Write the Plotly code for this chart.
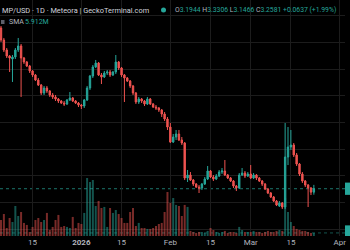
import pandas as pd
import plotly.graph_objects as go

dates = pd.date_range("2025-12-04", periods=110, freq="D")

opens = [6.268, 6.043, 5.856, 5.744, 5.687, 5.725, 5.856, 5.931, 5.706, 5.631,
         5.556, 5.463, 5.388, 5.294, 5.200, 5.051, 5.144, 5.088, 5.013, 4.976,
         4.938, 4.901, 4.863, 4.845, 4.919, 4.957, 4.901, 4.863, 4.826, 4.807,
         4.919, 5.144, 5.369, 5.538, 5.612, 5.388, 5.350, 5.425, 5.444, 5.388,
         5.444, 5.631, 5.519, 5.388, 5.332, 5.275, 5.182, 5.051, 4.882, 4.938,
         4.901, 4.845, 4.938, 4.845, 4.788, 4.770, 4.732, 4.657, 4.564, 4.414,
         4.133, 4.227, 4.283, 4.170, 4.114, 3.459, 3.515, 3.421, 3.346, 3.290,
         3.272, 3.346, 3.440, 3.590, 3.478, 3.440, 3.496, 3.571, 3.590, 3.515,
         3.459, 3.403, 3.309, 3.272, 3.515, 3.552, 3.496, 3.534, 3.459, 3.515,
         3.459, 3.403, 3.346, 3.253, 3.178, 3.103, 3.028, 2.934, 2.991, 2.916,
         3.852, 4.039, 4.077, 3.890, 3.721, 3.534, 3.403, 3.328, 3.272, 3.1944]
highs = [6.305, 6.081, 5.893, 5.762, 5.762, 5.893, 6.081, 5.968, 5.725, 5.650,
         5.575, 5.481, 5.406, 5.332, 5.219, 5.182, 5.182, 5.107, 5.051, 5.013,
         4.957, 4.919, 4.901, 4.938, 5.069, 4.976, 4.919, 4.882, 4.845, 4.938,
         5.182, 5.388, 5.575, 5.669, 5.631, 5.425, 5.463, 5.481, 5.481, 5.463,
         5.762, 5.650, 5.538, 5.406, 5.350, 5.294, 5.200, 5.069, 4.976, 4.957,
         4.919, 4.976, 4.957, 4.863, 4.826, 4.788, 4.751, 4.695, 4.601, 4.489,
         4.283, 4.358, 4.358, 4.227, 4.133, 3.609, 3.571, 3.440, 3.365, 3.328,
         3.365, 3.478, 3.684, 3.609, 3.515, 3.534, 3.609, 3.646, 3.796, 3.534,
         3.478, 3.421, 3.328, 3.552, 3.646, 3.590, 3.571, 3.702, 3.552, 3.534,
         3.478, 3.421, 3.365, 3.272, 3.197, 3.122, 3.047, 3.028, 3.009, 4.489,
         4.414, 4.358, 4.114, 3.927, 3.740, 3.571, 3.421, 3.346, 3.290, 3.3306]
lows = [6.006, 5.818, 5.706, 5.444, 5.257, 5.687, 5.818, 4.976, 5.594, 5.538,
        5.425, 5.350, 5.275, 5.182, 5.013, 5.013, 5.051, 4.976, 4.938, 4.901,
        4.863, 4.845, 4.807, 4.826, 4.901, 4.882, 4.845, 4.788, 4.751, 4.770,
        4.901, 5.107, 5.332, 5.519, 5.369, 5.219, 5.332, 5.388, 5.350, 5.369,
        5.406, 5.481, 5.350, 4.882, 5.257, 5.144, 5.013, 4.845, 4.845, 4.863,
        4.807, 4.826, 4.826, 4.770, 4.732, 4.695, 4.601, 4.526, 4.358, 4.114,
        4.114, 4.170, 4.152, 4.077, 3.421, 3.384, 3.403, 3.309, 3.272, 3.178,
        3.234, 3.328, 3.421, 3.459, 3.403, 3.421, 3.478, 3.534, 3.496, 3.440,
        3.384, 3.272, 3.215, 3.253, 3.496, 3.459, 3.478, 3.440, 3.440, 3.421,
        3.384, 3.309, 3.234, 3.159, 3.084, 3.009, 2.934, 2.916, 2.878, 2.878,
        3.702, 3.983, 3.852, 3.684, 3.496, 3.365, 3.290, 2.916, 3.140, 3.1466]
closes = [6.043, 5.856, 5.744, 5.706, 5.725, 5.856, 5.931, 5.706, 5.631, 5.556,
          5.463, 5.388, 5.294, 5.200, 5.051, 5.144, 5.088, 5.013, 4.976, 4.938,
          4.901, 4.863, 4.845, 4.919, 4.957, 4.901, 4.863, 4.826, 4.807, 4.919,
          5.144, 5.369, 5.538, 5.612, 5.388, 5.350, 5.425, 5.444, 5.388, 5.444,
          5.631, 5.519, 5.388, 5.332, 5.275, 5.182, 5.051, 4.882, 4.938, 4.901,
          4.845, 4.938, 4.845, 4.788, 4.770, 4.732, 4.657, 4.564, 4.414, 4.133,
          4.227, 4.283, 4.170, 4.114, 3.459, 3.515, 3.421, 3.346, 3.290, 3.272,
          3.346, 3.440, 3.590, 3.478, 3.440, 3.496, 3.571, 3.590, 3.515, 3.459,
          3.403, 3.309, 3.272, 3.515, 3.552, 3.496, 3.534, 3.459, 3.515, 3.459,
          3.403, 3.346, 3.253, 3.178, 3.103, 3.028, 2.953, 2.991, 2.916, 3.852,
          4.039, 4.077, 3.890, 3.721, 3.534, 3.403, 3.328, 3.272, 3.1944, 3.2581]
volumes_m = [12.0, 16.5, 6.0, 13.5, 10.5, 22.5, 15.0, 18.0, 9.8, 8.3,
             3.0, 6.8, 12.0, 13.5, 10.5, 12.0, 17.3, 4.5, 6.8, 12.0,
             15.8, 6.8, 7.5, 6.8, 6.0, 14.3, 6.0, 9.8, 9.0, 17.3,
             43.5, 40.5, 42.0, 22.5, 26.3, 21.0, 21.8, 6.8, 21.0, 17.3,
             19.5, 16.5, 13.5, 9.8, 9.8, 18.0, 21.0, 7.5, 9.8, 6.0,
             6.0, 5.3, 5.3, 6.0, 7.5, 9.0, 9.8, 18.0, 33.0, 24.8,
             28.5, 23.3, 22.5, 15.0, 23.3, 21.8, 3.8, 3.0, 2.3, 3.0,
             3.0, 2.3, 3.8, 6.0, 4.5, 3.0, 2.3, 3.0, 3.8, 2.3,
             3.0, 3.0, 2.3, 6.8, 4.5, 3.0, 3.0, 3.0, 3.8, 3.0,
             3.0, 2.3, 3.0, 3.8, 3.0, 3.0, 3.8, 4.5, 3.8, 28.5,
             18.0, 10.5, 7.5, 5.3, 4.5, 3.8, 3.8, 3.0, 2.3, 2.3]

tick_dates = ["2025-12-15", "2026-01-01", "2026-01-15", "2026-02-01",
              "2026-02-15", "2026-03-01", "2026-03-15", "2026-04-01"]
tick_labels = ["15", "<b>2026</b>", "15", "Feb", "15", "Mar", "15", "Apr"]

GREEN = "#26a69a"
RED = "#ef5350"
GREEN_V = "rgba(38,166,154,0.5)"
RED_V = "rgba(239,83,80,0.5)"
GRID = "#1c1c1c"
TXT = "#b2b5be"
FONT = "Roboto"

price_range = [2.373, 6.792]
vol_range = [0, 177]

vol_colors = [GREEN_V if c >= o else RED_V for o, c in zip(opens, closes)]

fig = go.Figure()
fig.add_trace(go.Bar(x=dates, y=volumes_m, marker=dict(color=vol_colors, line=dict(width=0)),
                     yaxis="y", showlegend=False, hoverinfo="skip"))
fig.add_trace(go.Candlestick(x=dates, open=opens, high=highs, low=lows, close=closes,
                             yaxis="y2", whiskerwidth=0,
                             increasing=dict(line=dict(color=GREEN, width=1), fillcolor=GREEN),
                             decreasing=dict(line=dict(color=RED, width=1), fillcolor=RED),
                             showlegend=False))

last_close = closes[-1]
last_vol = volumes_m[-1]

def to_paper(v, rng):
    return (v - rng[0]) / (rng[1] - rng[0])

shapes = [
    dict(type="line", xref="paper", x0=0, x1=1, yref="y2", y0=last_close, y1=last_close,
         line=dict(color="rgba(38,166,154,0.7)", width=1, dash="dot"), layer="below"),
    dict(type="line", xref="paper", x0=0, x1=1, yref="y", y0=last_vol, y1=last_vol,
         line=dict(color="rgba(38,166,154,0.5)", width=1, dash="dot"), layer="below"),
    dict(type="rect", xref="paper", x0=1.0, x1=1.03, yref="paper",
         y0=to_paper(last_close, price_range) - 0.026, y1=to_paper(last_close, price_range) + 0.026,
         fillcolor=GREEN, line=dict(width=0)),
    dict(type="rect", xref="paper", x0=1.0, x1=1.03, yref="paper",
         y0=0.0, y1=0.045, fillcolor=GREEN, line=dict(width=0)),
    dict(type="circle", xref="paper", yref="paper", x0=161/345, x1=166/345,
         y0=1 - 12.5/236, y1=1 - 7.5/236, fillcolor=GREEN, line=dict(width=0)),
    dict(type="rect", xref="paper", yref="paper", x0=1/345, x1=4.5/345,
         y0=1 - 24/236, y1=1 - 20/236, fillcolor="#5d606b", line=dict(width=0)),
]

title_txt = "MP/USD · 1D · Meteora | GeckoTerminal.com"
g = lambda s: f"<span style='color:{GREEN}'>{s}</span>"
ohlc_txt = ("O" + g("3.1944") + " H" + g("3.3306") + " L" + g("3.1466") +
            " C" + g("3.2581") + " " + g("+0.0637 (+1.99%)"))

annotations = [
    dict(text=title_txt, xref="paper", yref="paper", x=0, y=1 - 10/236,
         xanchor="left", yanchor="middle", showarrow=False,
         font=dict(family=FONT, size=7.4, color="#d1d4dc")),
    dict(text=ohlc_txt, xref="paper", yref="paper", x=173/345, y=1 - 10/236,
         xanchor="left", yanchor="middle", showarrow=False,
         font=dict(family=FONT, size=6.8, color=TXT)),
    dict(text="SMA", xref="paper", yref="paper", x=7/345, y=1 - 22/236,
         xanchor="left", yanchor="middle", showarrow=False,
         font=dict(family=FONT, size=7, color=TXT)),
    dict(text="5.912M", xref="paper", yref="paper", x=23/345, y=1 - 22/236,
         xanchor="left", yanchor="middle", showarrow=False,
         font=dict(family=FONT, size=7, color=GREEN)),
]

fig.update_layout(
    template="none",
    width=350, height=250,
    margin=dict(l=0, r=5, t=0, b=14),
    paper_bgcolor="#000000", plot_bgcolor="#000000",
    bargap=0.3,
    showlegend=False,
    xaxis=dict(type="date", range=["2025-12-03 15:40", "2026-04-02 20:30"],
               tickvals=tick_dates, ticktext=tick_labels, showgrid=True,
               gridcolor=GRID, gridwidth=1, zeroline=False, showline=False,
               ticks="", tickfont=dict(family=FONT, size=8, color=TXT),
               rangeslider=dict(visible=False), automargin=False, fixedrange=True),
    yaxis=dict(range=vol_range, visible=False, showgrid=False, automargin=False),
    yaxis2=dict(range=price_range, overlaying="y", side="right", dtick=0.5, tick0=0,
                showgrid=True, gridcolor=GRID, gridwidth=1, zeroline=False,
                showline=False, ticks="", showticklabels=False, automargin=False),
    shapes=shapes,
    annotations=annotations,
)

fig.write_html("out.html")
